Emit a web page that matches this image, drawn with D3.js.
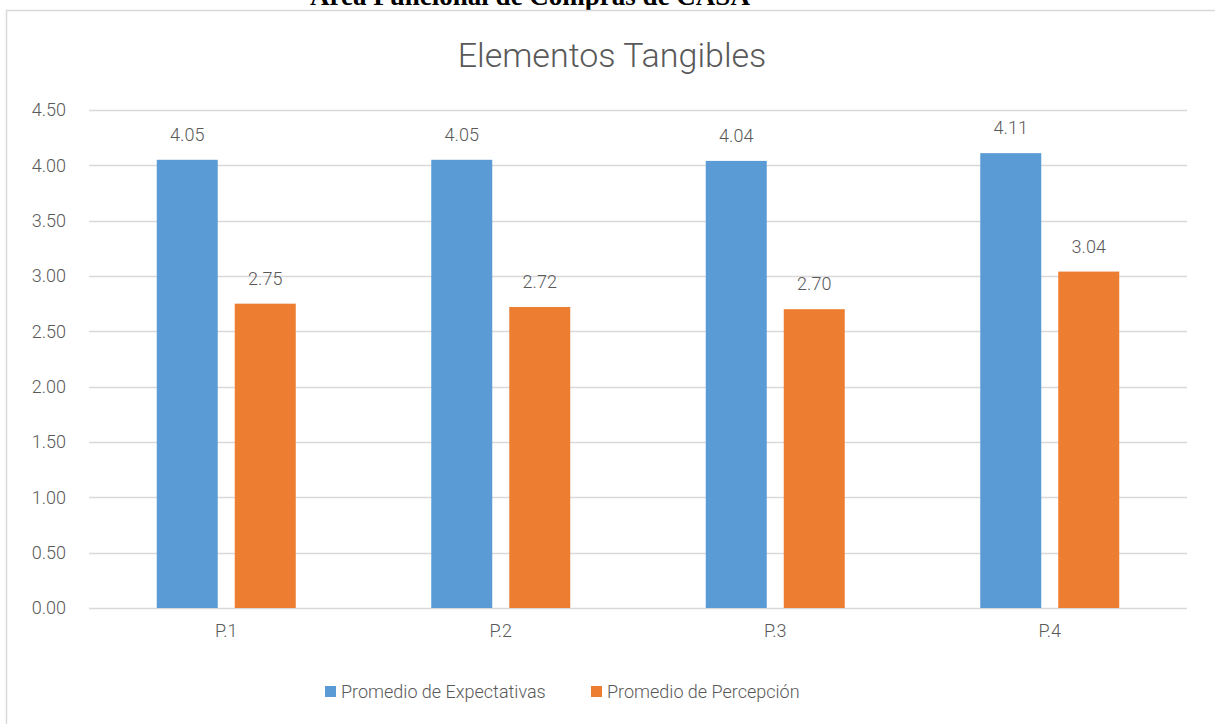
<!DOCTYPE html>
<html>
<head>
<meta charset="utf-8">
<script src="https://cdn.jsdelivr.net/npm/d3@7"></script>
<style>
  body { margin: 0; background: #fff; }
  svg { display: block; }
</style>
</head>
<body>
<svg id="chart" width="1215" height="724"></svg>
<script>
var categories = ["P.1", "P.2", "P.3", "P.4"];
var seriesNames = ["Promedio de Expectativas", "Promedio de Percepción"];
var expectativas = [4.05, 4.05, 4.04, 4.11];
var percepcion = [2.75, 2.72, 2.70, 3.04];
var yTicks = [0, 0.5, 1, 1.5, 2, 2.5, 3, 3.5, 4, 4.5];
var colors = ["#5b9bd5", "#ed7d31"];

var svg = d3.select("#chart");
var font = "Roboto, 'Liberation Sans', sans-serif";
var textColor = "#595959";

// page heading above the chart, clipped by the top edge as in the source
svg.append("text")
  .attr("x", 530)
  .attr("y", 5)
  .attr("text-anchor", "middle")
  .style("font-family", "'Liberation Serif', 'Times New Roman', serif")
  .style("font-weight", "bold")
  .style("font-size", "27px")
  .style("fill", "#000")
  .text("Área Funcional de Compras de CASA");

// chart frame
svg.append("rect")
  .attr("x", 6.5)
  .attr("y", 10.5)
  .attr("width", 1240)
  .attr("height", 760)
  .attr("fill", "none")
  .attr("stroke", "#d9d9d9")
  .attr("stroke-width", 1.5);

svg.append("text")
  .attr("x", 612)
  .attr("y", 67)
  .attr("text-anchor", "middle")
  .style("font-family", font)
  .style("font-weight", 300)
  .style("font-size", "34px")
  .style("fill", textColor)
  .text("Elementos Tangibles");

var x = d3.scaleBand().domain(categories).range([89, 1187]);
var y = d3.scaleLinear().domain([0, 4.5]).range([608, 110]);

// gridlines
svg.append("g")
  .selectAll("line")
  .data(yTicks)
  .join("line")
  .attr("x1", 89)
  .attr("x2", 1187)
  .attr("y1", function(d) { return Math.round(y(d)) + 0.5; })
  .attr("y2", function(d) { return Math.round(y(d)) + 0.5; })
  .attr("stroke", "#d9d9d9")
  .attr("stroke-width", 1.5);

// y axis labels
var yAxis = d3.axisLeft(y).tickValues(yTicks).tickFormat(d3.format(".2f")).tickSize(0).tickPadding(0);
var yg = svg.append("g").attr("transform", "translate(66,0)").call(yAxis);
yg.select(".domain").remove();
yg.selectAll("text")
  .style("font-family", font)
  .style("font-weight", 300)
  .style("font-size", "18px")
  .style("fill", textColor);

// x axis labels
var xAxis = d3.axisBottom(x).tickSize(0).tickPadding(0);
var xg = svg.append("g").attr("transform", "translate(0,624)").call(xAxis);
xg.select(".domain").remove();
xg.selectAll("text")
  .attr("dy", "0.71em")
  .style("font-family", font)
  .style("font-weight", 300)
  .style("font-size", "18px")
  .style("fill", textColor);

// bars
var barW = 61, gap = 17;
var series = [expectativas, percepcion];
var offsets = [-gap / 2 - barW, gap / 2];

series.forEach(function(values, s) {
  var g = svg.append("g");
  g.selectAll("rect")
    .data(values)
    .join("rect")
    .attr("x", function(d, i) { return x(categories[i]) + x.bandwidth() / 2 + offsets[s]; })
    .attr("y", function(d) { return y(d); })
    .attr("width", barW)
    .attr("height", function(d) { return y(0) - y(d); })
    .attr("fill", colors[s]);
  g.selectAll("text")
    .data(values)
    .join("text")
    .attr("x", function(d, i) { return x(categories[i]) + x.bandwidth() / 2 + offsets[s] + barW / 2; })
    .attr("y", function(d) { return y(d) - 19; })
    .attr("text-anchor", "middle")
    .style("font-family", font)
    .style("font-weight", 300)
    .style("font-size", "18px")
    .style("fill", textColor)
    .text(function(d) { return d3.format(".2f")(d); });
});

// legend
var legendX = [325, 591];
var legend = svg.append("g");
seriesNames.forEach(function(name, s) {
  legend.append("rect")
    .attr("x", legendX[s])
    .attr("y", 686)
    .attr("width", 11)
    .attr("height", 11)
    .attr("fill", colors[s]);
  legend.append("text")
    .attr("x", legendX[s] + 16)
    .attr("y", 698)
    .style("font-family", font)
    .style("font-weight", 300)
    .style("font-size", "18px")
    .style("fill", textColor)
    .text(name);
});
</script>
</body>
</html>
